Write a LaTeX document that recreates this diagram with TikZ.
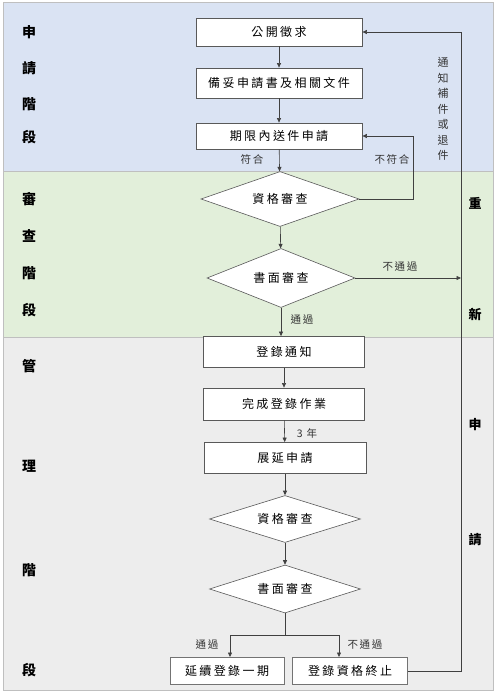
\documentclass[tikz,border=0pt]{standalone}
\usepackage{fontspec}
\setmainfont{Noto Sans CJK TC}
\usetikzlibrary{shapes.geometric,arrows.meta}
\definecolor{bandblue}{HTML}{DAE3F3}
\definecolor{bandgreen}{HTML}{E2EFDA}
\definecolor{bandgray}{HTML}{EDEDED}
\newcommand{\boxfont}{\fontsize{12}{14}\selectfont\addfontfeature{LetterSpace=20}}
\newcommand{\lblfont}{\fontsize{10.5}{12}\selectfont\addfontfeature{LetterSpace=15}}
\tikzset{
  stepbox/.style={rectangle,draw=black!65,line width=0.8pt,fill=white,minimum width=166pt,minimum height=28pt,inner sep=0pt,font=\boxfont},
  check/.style={diamond,draw=black!65,line width=0.6pt,fill=white,aspect=2.8,inner sep=0pt,font=\boxfont},
  flow/.style={-{Triangle[length=4.5pt,width=4pt]},line width=0.6pt,black!75},
  link/.style={line width=0.6pt,black!75},
  lbl/.style={font=\lblfont,text=black!80},
  stage/.style={font=\fontsize{14}{16}\selectfont\bfseries},
  bandline/.style={draw=black!25,line width=0.6pt},
}

\begin{document}
\begin{tikzpicture}[x=1pt,y=-1pt]
  \useasboundingbox (0,0) rectangle (497,695);
  \fill[white] (0,0) rectangle (497,695);
  % stage bands
  \draw[bandline,fill=bandblue] (3,2) rectangle (493,171);
  \draw[bandline,fill=bandgreen] (3,171) rectangle (493,337);
  \draw[bandline,fill=bandgray] (3,337) rectangle (493,690);
  \foreach \ch/\y in {申/32,請/68,階/104,段/137,審/199,查/236,階/273,段/310,管/366,理/466,階/570,段/670}
    \node[stage] (st-\y) at (29,\y) {\ch};
  \foreach \ch/\y in {重/203,新/314,申/425,請/540}
    \node[stage,font=\fontsize{13}{15}\selectfont\bfseries] (re-\y) at (475,\y) {\ch};
  % steps
  \node[stepbox] (call) at (279,32) {公開徵求};
  \node[stepbox,minimum height=30pt] (prep) at (279,83) {備妥申請書及相關文件};
  \node[stepbox,minimum height=26pt] (submit) at (279,136) {期限內送件申請};
  \node[check,minimum width=158pt,minimum height=55pt] (qual) at (280,199) {資格審查};
  \node[check,minimum width=148pt,minimum height=59pt] (paper) at (281,278) {書面審查};
  \node[stepbox,minimum width=161pt,minimum height=31pt] (notice) at (284,352) {登錄通知};
  \node[stepbox,minimum width=161pt,minimum height=32pt] (done) at (284,404) {完成登錄作業};
  \node[stepbox,minimum width=162pt,minimum height=31pt] (renew) at (285,458) {展延申請};
  \node[check,minimum width=151pt,minimum height=47pt] (qualb) at (285,519) {資格審查};
  \node[check,minimum width=151pt,minimum height=48pt] (paperb) at (285,589) {書面審查};
  \node[stepbox,draw=black!55,line width=1pt,minimum width=114pt,minimum height=27pt] (extend) at (227,671) {延續登錄一期};
  \node[stepbox,draw=black!55,line width=1pt,minimum width=115pt,minimum height=27pt] (stop) at (350,671) {登錄資格終止};
  \coordinate (fork) at (285,635);
  \coordinate (back) at (461,32);
  \coordinate (retry) at (413,136);
  % connectors
  \draw[flow] (call) -- (prep);
  \draw[flow] (prep) -- (submit);
  \draw[flow] (submit) -- (qual);
  \draw[flow] (qual) -- (paper);
  \draw[flow] (paper.south) -- (paper.south |- notice.north);
  \draw[flow] (notice) -- (done);
  \draw[flow] (done) -- (renew);
  \draw[flow] (renew) -- (qualb);
  \draw[flow] (qualb) -- (paperb);
  \draw[link] (paperb) -- (fork);
  \draw[flow] (fork) -| ([xshift=3pt]extend.north);
  \draw[flow] (fork) -| ([xshift=-11pt]stop.north);
  \draw[flow] (qual.east) -| (retry) -- (submit.east);
  \draw[flow] (stop.east) -| (back) -- (call.east);
  \draw[flow] (paper.east) -- (paper.east -| back);
  % labels
  \node[lbl] (ok) at (252,159) {符合};
  \node[lbl] (notok) at (392,159) {不符合};
  \node[lbl] (fail) at (400,267) {不通過};
  \node[lbl] (pass) at (302,320) {通過};
  \node[lbl] (years) at (307,433) {3 年};
  \node[lbl] (passb) at (207,645) {通過};
  \node[lbl] (failb) at (365,645) {不通過};
  \node[lbl,align=center,font=\fontsize{11}{15.5}\selectfont] (notify) at (443,109) {通\\知\\補\\件\\或\\退\\件};
\end{tikzpicture}
\end{document}
